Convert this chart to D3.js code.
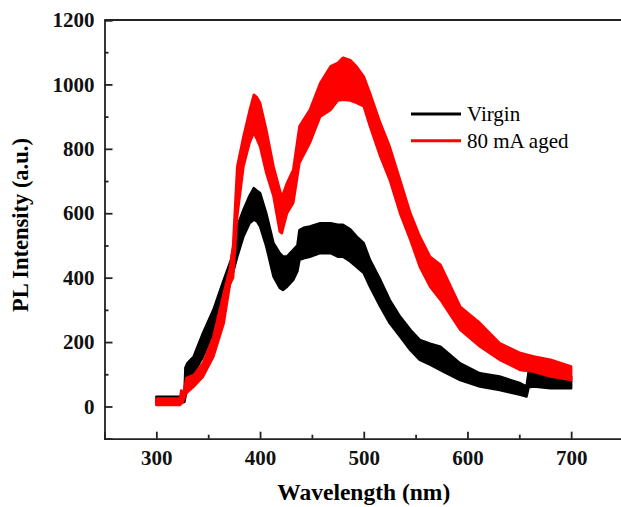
<!DOCTYPE html>
<html>
<head>
<meta charset="utf-8">
<script src="https://cdn.jsdelivr.net/npm/d3@7"></script>
<style>
  body { margin: 0; background: #fff; }
  text { font-family: "Liberation Serif", "Times New Roman", serif; }
</style>
</head>
<body>
<div id="chart"></div>
<script>
// Virgin sample: wavelength (nm) with top and bottom edge of the noisy trace
var virginWl = [300, 327, 328, 330, 336, 345, 355, 365, 372, 378, 384, 390, 394, 397, 400, 406, 413, 419, 422, 426, 432, 436, 438, 442, 448, 458, 468, 475, 480, 487, 493, 500, 506, 516, 525, 535, 545, 554, 564, 574, 593, 612, 631, 651, 657, 659, 664, 680, 700];
var virginHi = [30, 30, 120, 135, 155, 228, 300, 393, 455, 559, 611, 655, 678, 670, 663, 600, 507, 476, 466, 466, 486, 500, 548, 555, 559, 569, 569, 564, 564, 550, 528, 507, 455, 393, 331, 279, 238, 207, 195, 186, 134, 103, 93, 72, 62, 108, 108, 98, 93];
var virginLo = [14, 14, 30, 62, 103, 155, 228, 310, 393, 465, 528, 570, 580, 575, 559, 497, 403, 368, 362, 372, 393, 420, 455, 460, 465, 476, 476, 465, 465, 450, 434, 414, 372, 310, 259, 217, 175, 145, 130, 113, 82, 62, 51, 36, 31, 60, 62, 57, 57];

// 80 mA aged sample
var agedWl = [300, 323, 324, 325, 329, 336, 345, 355, 365, 371, 374, 378, 384, 390, 394, 397, 400, 406, 413, 419, 421, 426, 432, 438, 448, 458, 468, 475, 480, 487, 493, 500, 506, 516, 525, 535, 545, 554, 564, 574, 593, 612, 631, 651, 664, 680, 700];
var agedHi = [25, 25, 50, 25, 88, 98, 135, 217, 352, 430, 500, 745, 838, 920, 968, 960, 943, 859, 745, 673, 650, 694, 735, 870, 921, 1004, 1056, 1067, 1083, 1075, 1056, 1025, 973, 880, 807, 704, 600, 528, 465, 440, 310, 259, 197, 166, 155, 145, 124];
var agedLo = [5, 5, 10, 10, 42, 62, 93, 155, 259, 380, 400, 590, 745, 820, 850, 830, 807, 725, 652, 543, 538, 600, 632, 756, 818, 900, 921, 950, 952, 950, 943, 932, 870, 776, 704, 600, 517, 434, 372, 331, 238, 186, 145, 113, 108, 93, 82];

var xMajor = [300, 400, 500, 600, 700];
var xMinor = [350, 450, 550, 650];
var yMajor = [0, 200, 400, 600, 800, 1000, 1200];
var yMinor = [100, 300, 500, 700, 900, 1100];

var seriesNames = ["Virgin", "80 mA aged"];
var seriesColors = ["#000000", "#ff0000"];

function init() {
	var w = 621;
	var h = 507;
	var left = 104.5, right = 623, top = 20, bottom = 438.7;

	var svg = d3.select("#chart")
		.append("svg")
		.attr("width", w)
		.attr("height", h);

	var x = d3.scaleLinear().domain([250, 750]).range([left, right]);
	var y = d3.scaleLinear().domain([-100, 1200]).range([bottom, top]);

	function band(wl, hi, lo) {
		return wl.map(function(d, i) { return { wl: d, hi: hi[i], lo: lo[i] }; });
	}

	var area = d3.area()
		.x(d => x(d.wl))
		.y0(d => y(d.lo))
		.y1(d => y(d.hi));

	var data = [band(virginWl, virginHi, virginLo), band(agedWl, agedHi, agedLo)];

	svg.append("g")
		.selectAll("path")
		.data(data)
		.join("path")
			.attr("d", area)
			.attr("fill", (d, i) => seriesColors[i])
			.attr("stroke", (d, i) => seriesColors[i])
			.attr("stroke-width", 2.5)
			.attr("stroke-linejoin", "round");

	// axes
	svg.append("g")
		.attr("transform", `translate(0,${bottom})`)
		.call(d3.axisBottom(x).tickValues(xMajor).tickSize(-7).tickPadding(11).tickFormat(d3.format("d")));
	svg.append("g")
		.attr("transform", `translate(0,${bottom})`)
		.call(d3.axisBottom(x).tickValues(xMinor).tickSize(-4).tickFormat(""))
		.call(g => g.select(".domain").remove());

	svg.append("g")
		.attr("transform", `translate(${left},0)`)
		.call(d3.axisLeft(y).tickValues(yMajor).tickSize(-8).tickPadding(10).tickFormat(d3.format("d")));
	svg.append("g")
		.attr("transform", `translate(${left},0)`)
		.call(d3.axisLeft(y).tickValues(yMinor).tickSize(-4).tickFormat(""))
		.call(g => g.select(".domain").remove());

	svg.selectAll(".domain, .tick line")
		.attr("stroke", "#222")
		.attr("stroke-width", 1.8);
	svg.selectAll(".tick text")
		.attr("font-family", "Liberation Serif")
		.attr("font-weight", "bold")
		.attr("font-size", 21)
		.attr("fill", "#111");

	// top frame
	svg.append("line")
		.attr("x1", left).attr("x2", w)
		.attr("y1", top).attr("y2", top)
		.attr("stroke", "#222")
		.attr("stroke-width", 1.8);

	// titles
	svg.append("text")
		.attr("x", (left + right) / 2)
		.attr("y", 500)
		.attr("text-anchor", "middle")
		.attr("font-weight", "bold")
		.attr("font-size", 23.5)
		.text("Wavelength (nm)");

	svg.append("text")
		.attr("transform", "translate(28,225) rotate(-90)")
		.attr("text-anchor", "middle")
		.attr("font-weight", "bold")
		.attr("font-size", 22.5)
		.text("PL Intensity (a.u.)");

	// legend
	var legend = svg.append("g")
		.selectAll("g")
		.data(seriesNames)
		.join("g")
			.attr("transform", (d, i) => `translate(411,${114 + i * 26.7})`);
	legend.append("line")
		.attr("x1", 0).attr("x2", 50)
		.attr("stroke", (d, i) => seriesColors[i])
		.attr("stroke-width", 3);
	legend.append("text")
		.attr("x", 56)
		.attr("y", 7)
		.attr("font-size", 21)
		.text(d => d);
}

window.onload = init;
</script>
</body>
</html>
